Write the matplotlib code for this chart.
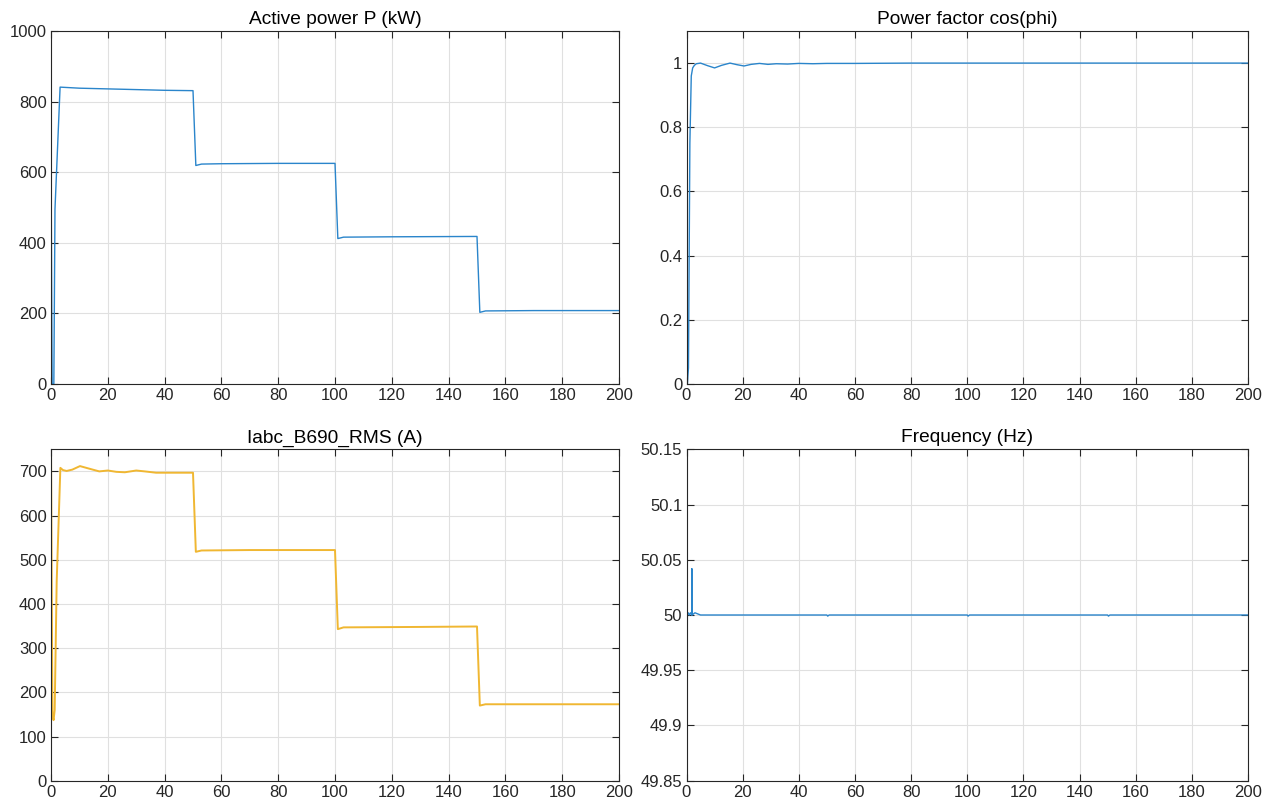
import matplotlib
matplotlib.use("Agg")
import matplotlib.pyplot as plt
from matplotlib.ticker import FuncFormatter, MultipleLocator

plt.rcParams['font.family'] = ['Liberation Sans', 'DejaVu Sans']

# ---- Data ----
t_p = [0, 0.4, 1.0, 1.4, 3.2, 10, 20, 30, 40, 50, 51, 53, 60, 80, 100, 101, 103, 120, 150, 151, 153, 170, 200]
p_kw = [650, 0, 0, 495, 841, 838, 836, 834, 832, 831, 619, 623, 624, 625, 625, 412, 416, 417, 418, 203, 207, 208, 208]

t_pf = [0, 0.3, 0.7, 1.2, 1.7, 2.2, 2.8, 3.5, 5, 7.5, 10, 12.5, 15.5, 18, 20.5, 23, 26, 29, 32, 36, 40, 45, 50, 60, 80, 100, 150, 200]
pf = [0.43, 0.0, 0.05, 0.75, 0.96, 0.985, 0.993, 0.998, 1.0, 0.992, 0.985, 0.993, 1.0, 0.995, 0.991, 0.996, 0.999, 0.996, 0.998, 0.997, 0.999, 0.998, 0.999, 0.999, 1.0, 1.0, 1.0, 1.0]

t_i = [0, 0.5, 0.9, 1.3, 2.0, 3.3, 4.2, 5.5, 7.5, 10.2, 13, 17, 20, 23, 26, 30, 33, 37, 42, 50, 51, 53, 70, 100, 101, 103, 130, 150, 151, 153, 180, 200]
i_rms = [750, 150, 137, 160, 450, 708, 703, 701, 704, 712, 707, 700, 702, 699, 698, 702, 700, 697, 697, 697, 518, 521, 522, 522, 343, 347, 348, 349, 170, 173, 173, 173]

t_f = [0, 0.15, 0.3, 0.6, 1.0, 1.4, 1.85, 1.9, 2.0, 2.5, 3, 4, 5, 6, 50, 50.3, 50.8, 100, 100.3, 100.8, 150, 150.3, 150.8, 200]
f_hz = [50.2, 49.89, 50.0, 50.002, 50.0, 50.002, 50.0, 50.042, 50.0, 50.001, 50.002, 50.001, 50.0, 50.0, 50.0, 49.999, 50.0, 50.0, 49.999, 50.0, 50.0, 49.999, 50.0, 50.0]

x_ticks = list(range(0, 201, 20))
titles = ["Active power P (kW)", "Power factor cos(phi)", "Iabc_B690_RMS (A)", "Frequency (Hz)"]

BLUE = "#2a85cb"
YELLOW = "#F0B732"
DARK = "#262626"

fig = plt.figure(figsize=(12.68, 8.07), dpi=100)
W, H = 1268, 807

def make_ax(x0, x1, ytop, ybot):
    return fig.add_axes([x0 / W, 1 - ybot / H, (x1 - x0) / W, (ybot - ytop) / H])

ax1 = make_ax(51, 619, 31, 384)
ax2 = make_ax(686.5, 1248, 31, 384)
ax3 = make_ax(51, 619, 449.3, 780.7)
ax4 = make_ax(686.5, 1248, 449.3, 780.7)

fmt = FuncFormatter(lambda v, p: ("%g" % round(v, 6)))

def style(ax, title, ylim, ystep):
    ax.set_xlim(0, 200)
    ax.set_ylim(*ylim)
    ax.set_xticks(x_ticks)
    ax.yaxis.set_major_locator(MultipleLocator(ystep))
    ax.yaxis.set_major_formatter(fmt)
    ax.grid(True, color="#e0e0e0", linewidth=0.8)
    ax.set_axisbelow(True)
    ax.tick_params(direction="in", top=True, right=True, length=5, width=0.8,
                   colors=DARK, labelsize=12, pad=3)
    for s in ax.spines.values():
        s.set_color(DARK)
        s.set_linewidth(0.8)
    ax.set_title(title, fontsize=13.8, color="#000000", pad=5)

ax1.plot(t_p, p_kw, color=BLUE, lw=1.0)
style(ax1, titles[0], (0, 1000), 200)

ax2.plot(t_pf, pf, color=BLUE, lw=1.0)
style(ax2, titles[1], (0, 1.1), 0.2)
ax2.set_yticks([0, 0.2, 0.4, 0.6, 0.8, 1.0])

ax3.plot(t_i, i_rms, color=YELLOW, lw=1.4)
style(ax3, titles[2], (0, 750), 100)

ax4.plot(t_f, f_hz, color=BLUE, lw=1.0)
style(ax4, titles[3], (49.85, 50.15), 0.05)

fig.savefig("out.png", dpi=100, facecolor="white")
